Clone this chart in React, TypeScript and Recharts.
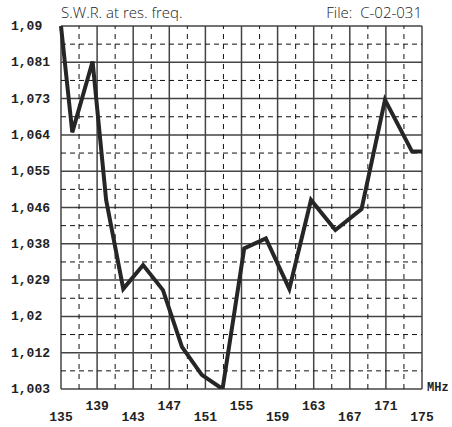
import { LineChart, Line, XAxis, YAxis, CartesianGrid, ReferenceLine } from "recharts";

const freq = [135, 136.25, 138.5, 140, 141.9, 144.1, 146.3, 148.4, 150.6, 152.9, 155.3, 157.7, 160.3, 162.7, 165.4, 168.3, 170.9, 173.9, 175];
const swr = [1.09, 1.0645, 1.0815, 1.0483, 1.027, 1.0327, 1.0267, 1.0131, 1.0064, 1.003, 1.0367, 1.0391, 1.027, 1.0483, 1.0411, 1.0461, 1.0723, 1.0599, 1.0599];

const xTicks = [135, 139, 143, 147, 151, 155, 159, 163, 167, 171, 175];
const xMinor = [137, 141, 145, 149, 153, 157, 161, 165, 169, 173];
const yTicks = [1.003, 1.0117, 1.0204, 1.0291, 1.0378, 1.0465, 1.0552, 1.0639, 1.0726, 1.0813, 1.09];
const yLabels = ["1,003", "1,012", "1,02", "1,029", "1,038", "1,046", "1,055", "1,064", "1,073", "1,081", "1,09"];
const yMinor = [1.00735, 1.01605, 1.02475, 1.03345, 1.04215, 1.05085, 1.05955, 1.06825, 1.07695, 1.08565];

const data = freq.map((f, i) => ({ f, swr: swr[i] }));

const mono = "'Liberation Mono', 'Courier New', monospace";

function YTick(props: any) {
  const { y, payload } = props;
  const i = yTicks.indexOf(payload.value);
  return (
    <text x={11} y={y} dy={4} textAnchor="start" fontFamily={mono} fontWeight="bold" fontSize={13} fill="#222">
      {yLabels[i]}
    </text>
  );
}

function XTick(props: any) {
  const { x, payload } = props;
  const i = xTicks.indexOf(payload.value);
  const y = i % 2 === 0 ? 421 : 410;
  return (
    <text x={x} y={y} textAnchor="middle" fontFamily={mono} fontWeight="bold" fontSize={13} fill="#222">
      {payload.value}
    </text>
  );
}

export default function App() {
  return (
    <div style={{ position: "absolute", left: 0, top: 0, width: 452, height: 427, background: "#fff" }}>
      <LineChart width={452} height={427} data={data} margin={{ top: 26, right: 30, bottom: 0, left: 0 }}>
        <CartesianGrid stroke="#444" strokeWidth={1.5} />
        {xMinor.map((v) => (
          <ReferenceLine key={"x" + v} x={v} stroke="#111" strokeDasharray="5 5" strokeWidth={1} />
        ))}
        {yMinor.map((v) => (
          <ReferenceLine key={"y" + v} y={v} stroke="#111" strokeDasharray="5 4" strokeWidth={1} />
        ))}
        <XAxis
          dataKey="f"
          type="number"
          domain={[135, 175]}
          ticks={xTicks}
          axisLine={false}
          tickLine={false}
          height={38}
          tick={<XTick />}
          interval={0}
        />
        <YAxis
          type="number"
          domain={[1.003, 1.09]}
          ticks={yTicks}
          axisLine={false}
          tickLine={false}
          width={61}
          tick={<YTick />}
          interval={0}
          allowDataOverflow
        />
        <Line
          type="linear"
          dataKey="swr"
          stroke="#262626"
          strokeWidth={4}
          strokeLinejoin="miter"
          dot={false}
          isAnimationActive={false}
        />
      </LineChart>
      <div style={{ position: "absolute", left: 61, top: 2, fontFamily: "'Open Sans', sans-serif", fontWeight: 300, fontSize: 15, color: "#222" }}>
        S.W.R. at res. freq.
      </div>
      <div style={{ position: "absolute", right: 30, top: 2, fontFamily: "'Open Sans', sans-serif", fontWeight: 300, fontSize: 15, color: "#222", whiteSpace: "pre" }}>
        File:  C-02-031
      </div>
      <div style={{ position: "absolute", left: 427, top: 381, fontFamily: mono, fontWeight: "bold", fontSize: 12, color: "#222" }}>
        MHz
      </div>
    </div>
  );
}
